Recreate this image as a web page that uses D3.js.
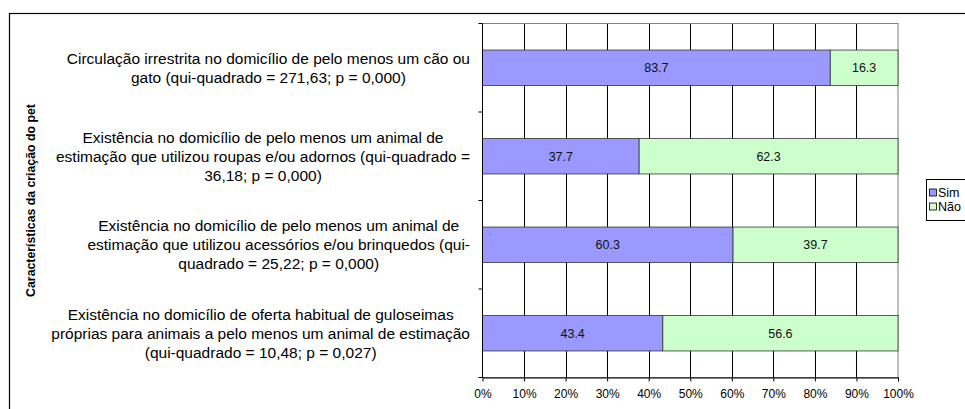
<!DOCTYPE html>
<html><head><meta charset="utf-8">
<script src="https://cdn.jsdelivr.net/npm/d3@7"></script>
<style>html,body{margin:0;padding:0;background:#fff;}svg{display:block;font-family:"Liberation Sans",Arial,sans-serif;}</style>
</head><body>
<svg id="c" width="965" height="409"></svg>
<script>
const categories = [
  ["Circulação irrestrita no domicílio de pelo menos um cão ou", "gato (qui-quadrado = 271,63; p = 0,000)"],
  ["Existência no domicílio de pelo menos um animal de", "estimação que utilizou roupas e/ou adornos (qui-quadrado =", "36,18; p = 0,000)"],
  ["Existência no domicílio de pelo menos um animal de", "estimação que utilizou acessórios e/ou brinquedos (qui-", "quadrado = 25,22; p = 0,000)"],
  ["Existência no domicílio de oferta habitual de guloseimas", "próprias para animais a pelo menos um animal de estimação", "(qui-quadrado = 10,48; p = 0,027)"]
];
const seriesNames = ["Sim", "Não"];
const simValues = [83.7, 37.7, 60.3, 43.4];
const naoValues = [16.3, 62.3, 39.7, 56.6];
const xTicks = [0, 10, 20, 30, 40, 50, 60, 70, 80, 90, 100];
const yTitle = "Características da criação do pet";
const colors = ["#9999FF", "#CCFFCC"];

const svg = d3.select("#c");
const L = 482.5, R = 898, T = 23.5, B = 377.5;

// outer border (cropped)
svg.append("rect").attr("x", 9.5).attr("y", 13.5).attr("width", 1000).attr("height", 500)
  .attr("fill", "none").attr("stroke", "#000").attr("stroke-width", 1.2);

const x = d3.scaleLinear().domain([0, 100]).range([L, R]);
const y = d3.scaleBand().domain(d3.range(categories.length)).range([T, B]).paddingInner(0.6).paddingOuter(0.3);
const yb = d3.scaleBand().domain(d3.range(categories.length)).range([T, B]);

// gridlines
svg.append("g").selectAll("line").data(xTicks.slice(1, -1)).join("line")
  .attr("x1", d => Math.round(x(d)) + 0.5).attr("x2", d => Math.round(x(d)) + 0.5)
  .attr("y1", T).attr("y2", B).attr("stroke", "#000").attr("stroke-width", 1);

// plot border
svg.append("rect").attr("x", L).attr("y", T).attr("width", R - L).attr("height", B - T)
  .attr("fill", "none").attr("stroke", "#808080").attr("stroke-width", 1);

// bars
const data = categories.map((c, i) => ({i, sim: simValues[i], nao: naoValues[i]}));
const segs = [];
data.forEach(d => {
  segs.push({i: d.i, s: 0, x0: 0, x1: d.sim, v: d.sim});
  segs.push({i: d.i, s: 1, x0: d.sim, x1: d.sim + d.nao, v: d.nao});
});
svg.append("g").selectAll("rect").data(segs).join("rect")
  .attr("x", d => x(d.x0)).attr("width", d => x(d.x1) - x(d.x0))
  .attr("y", d => y(d.i)).attr("height", y.bandwidth())
  .attr("fill", d => colors[d.s]).attr("stroke", "#333").attr("stroke-width", 0.8);
svg.append("g").selectAll("text").data(segs).join("text")
  .attr("x", d => (x(d.x0) + x(d.x1)) / 2).attr("y", d => y(d.i) + y.bandwidth() / 2)
  .attr("dy", "0.35em").attr("text-anchor", "middle").attr("font-size", 12.5).attr("fill", "#111")
  .text(d => d.v.toFixed(1));

// x axis
const xa = svg.append("g").attr("transform", `translate(0,${B})`)
  .call(d3.axisBottom(x).tickValues(xTicks).tickFormat(d => d + "%").tickSize(4).tickSizeOuter(0));
xa.select(".domain").attr("stroke", "#000");
xa.selectAll(".tick line").attr("stroke", "#000");
xa.selectAll(".tick text").attr("font-size", 12).attr("font-family", "Liberation Sans, Arial, sans-serif").attr("fill", "#000").attr("dy", "1.1em");

// y axis ticks at band boundaries
const yBounds = d3.range(categories.length + 1).map(k => k === categories.length ? B : yb(k));
svg.append("line").attr("x1", L).attr("x2", L).attr("y1", T).attr("y2", B).attr("stroke", "#000");
svg.append("g").selectAll("line").data(yBounds).join("line")
  .attr("x1", L - 4).attr("x2", L).attr("y1", d => d).attr("y2", d => d).attr("stroke", "#000");

// category labels
const lineH = 19;
const labG = svg.append("g").attr("font-size", 15.5).attr("fill", "#000");
categories.forEach((lines, i) => {
  const cy = yb(i) + yb.bandwidth() / 2;
  const g = labG.append("g");
  const texts = lines.map((ln, k) => g.append("text").attr("text-anchor", "middle")
    .attr("y", cy + (k - (lines.length - 1) / 2) * lineH).attr("dy", "0.35em").text(ln));
  const maxW = d3.max(texts, t => t.node().getComputedTextLength());
  texts.forEach(t => t.attr("x", 470 - maxW / 2));
});

// y title
svg.append("text").attr("transform", `translate(35,${(T + B) / 2}) rotate(-90)`)
  .attr("text-anchor", "middle").attr("font-size", 12.3).attr("font-weight", "bold").text(yTitle);

// legend
const lg = svg.append("g");
lg.append("rect").attr("x", 926.5).attr("y", 179.5).attr("width", 100).attr("height", 41)
  .attr("fill", "#fff").attr("stroke", "#000").attr("stroke-width", 1);
seriesNames.forEach((n, k) => {
  const cy = 192.5 + k * 14;
  lg.append("rect").attr("x", 929.5).attr("y", cy - 3.5).attr("width", 7).attr("height", 7)
    .attr("fill", colors[k]).attr("stroke", "#000").attr("stroke-width", 0.8);
  lg.append("text").attr("x", 938).attr("y", cy).attr("dy", "0.35em").attr("font-size", 12.5).text(n);
});
</script>
</body></html>
